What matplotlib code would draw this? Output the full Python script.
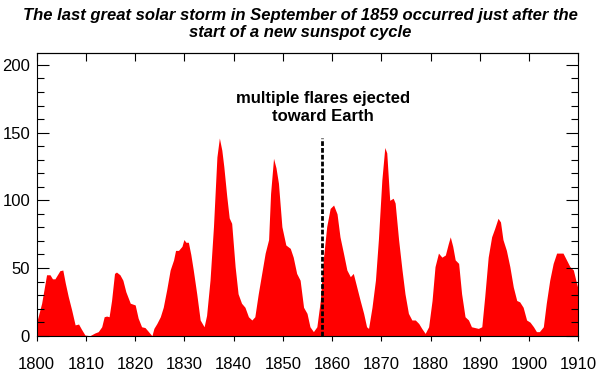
import matplotlib
matplotlib.use("Agg")
import matplotlib.pyplot as plt
from matplotlib.ticker import MultipleLocator

# sunspot number (year, value)
years = [
    1800.0, 1801.0, 1802.0, 1802.7, 1803.2, 1803.7, 1804.2, 1804.7, 1805.3, 1805.8,
    1806.4, 1807.1, 1807.8, 1808.5, 1809.1, 1809.8, 1810.8, 1811.8, 1812.5, 1813.2,
    1813.7, 1814.2, 1814.7, 1815.2, 1815.8, 1816.2, 1816.9, 1817.5, 1818.1, 1819.0,
    1820.0, 1820.6, 1821.3, 1822.0, 1822.7, 1823.4, 1823.8, 1824.4, 1825.1, 1825.7,
    1826.4, 1827.1, 1827.8, 1828.2, 1828.8, 1829.5, 1829.9, 1830.3, 1830.8, 1831.3,
    1831.8, 1832.5, 1833.2, 1834.0, 1834.5, 1835.2, 1835.9, 1836.6, 1837.1, 1837.6,
    1838.0, 1838.6, 1839.1, 1839.6, 1840.3, 1840.9, 1841.6, 1842.3, 1843.0, 1843.7,
    1844.3, 1845.0, 1845.7, 1846.4, 1847.1, 1847.5, 1848.1, 1848.6, 1849.1, 1849.8,
    1850.6, 1851.5, 1852.1, 1852.8, 1853.5, 1854.2, 1854.9, 1855.5, 1856.2, 1856.9,
    1857.6, 1858.2, 1858.9, 1859.6, 1860.3, 1861.0, 1861.6, 1862.3, 1863.0, 1863.7,
    1864.3, 1865.0, 1865.7, 1866.4, 1867.0, 1867.4, 1868.1, 1868.8, 1869.4, 1870.1,
    1870.7, 1871.1, 1871.7, 1872.4, 1872.8, 1873.5, 1874.2, 1874.8, 1875.5, 1876.2,
    1876.9, 1877.6, 1878.2, 1878.9, 1879.6, 1880.3, 1880.9, 1881.6, 1882.3, 1883.0,
    1883.6, 1884.0, 1884.5, 1885.0, 1885.7, 1886.3, 1887.0, 1887.7, 1888.3, 1889.0,
    1889.7, 1890.4, 1891.0, 1891.7, 1892.4, 1893.0, 1893.7, 1894.2, 1894.7, 1895.4,
    1896.1, 1896.8, 1897.5, 1898.1, 1898.8, 1899.5, 1900.2, 1900.9, 1901.5, 1902.1,
    1902.9, 1903.5, 1904.2, 1904.9, 1905.6, 1906.2, 1906.9, 1907.6, 1908.3, 1909.0,
    1909.5, 1910.0,
]
sunspots = [
    10, 24, 45, 45, 42, 42, 45, 48, 48.5, 39,
    29, 19, 8, 8.6, 4.7, 0.5, 0, 2, 3, 6.6,
    14, 14.5, 14, 26, 46, 47, 45, 41, 32.5, 24,
    22.7, 13, 6.6, 6, 3, 0, 5.4, 9, 14, 21,
    34, 48.5, 56, 63, 63, 66, 71, 69, 69, 60,
    48.5, 31, 11.6, 6.6, 15, 41, 80.5, 132, 146, 137,
    125, 103, 87, 83, 51, 31, 24, 21, 14, 11.6,
    14, 31, 46, 61, 71, 105, 131, 124, 112.6, 80.5,
    67, 64.5, 58, 46, 41, 21, 16.5, 6.6, 3, 6.6,
    26, 56, 80.5, 94, 96.5, 90, 73, 61, 48.5, 43.6,
    46, 36, 26, 16.5, 6.6, 5.4, 21, 41, 71, 115,
    139, 135, 100, 101.5, 98, 71, 48.5, 31, 16.5, 11.6,
    11.6, 9, 5.4, 1.7, 6.6, 26, 51, 61, 58, 59.6,
    68, 73, 66, 56, 53.4, 31, 14, 11.6, 6.6, 6,
    5.4, 6.6, 29, 58, 73, 79, 86.7, 84, 71, 63,
    51, 36, 26, 25, 21, 11.6, 10, 6.6, 3, 3,
    6.6, 24, 41, 53.4, 61, 61, 61, 56, 51, 48.5,
    41, 34,
]
xticks = list(range(1800, 1911, 10))
yticks = [0, 50, 100, 150, 200]

storm_year = 1858
storm_top = 146

plt.rcParams['font.family'] = ['Liberation Sans', 'DejaVu Sans']

fig = plt.figure(figsize=(6, 3.81), dpi=100)
ax = fig.add_axes([0.0612, 0.1189, 0.9026, 0.7428])

ax.fill_between(years, 0, sunspots, color='#ff0000', linewidth=0)
ax.vlines(storm_year, 0, storm_top, colors='black', linewidth=2,
          linestyles=(0, (1.7, 0.75)))
ax.text(storm_year + 0.2, 168.6, "multiple flares ejected\ntoward Earth",
        ha='center', va='center', fontsize=12, fontweight='bold',
        linespacing=1.25)

ax.set_xlim(1800, 1910)
ax.set_ylim(0, 209)
ax.set_xticks(xticks)
ax.set_yticks(yticks)
ax.yaxis.set_minor_locator(MultipleLocator(10))

for s in ax.spines.values():
    s.set_linewidth(0.8)

ax.tick_params(axis='x', direction='out', length=3.6, width=0.8, pad=12,
               labelsize=12, top=False)
ax.tick_params(axis='y', which='major', direction='in', length=8.4, width=0.8,
               right=True, pad=4.8, labelsize=12)
ax.tick_params(axis='y', which='minor', direction='in', length=4.8, width=0.8,
               right=True)

top = ax.secondary_xaxis('top')
top.set_xticks(xticks)
top.tick_params(direction='in', length=5.8, width=0.8, labeltop=False)

fig.text(0.5, 0.938,
         "The last great solar storm in September of 1859 occurred just after the\n"
         "start of a new sunspot cycle",
         ha='center', va='center', fontsize=12, fontweight='bold',
         fontstyle='italic', linespacing=1.15)

fig.savefig("out.png", dpi=100)
